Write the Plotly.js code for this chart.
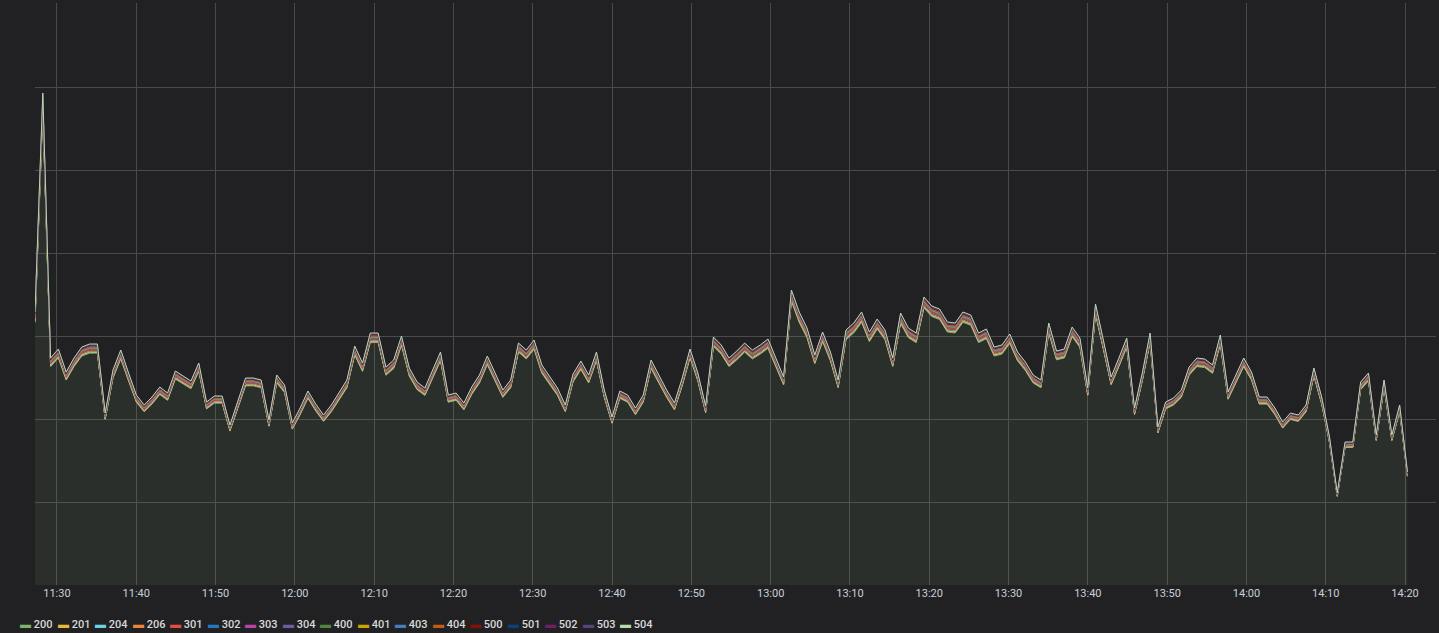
<!DOCTYPE html>
<html>
<head>
<meta charset="utf-8">
<script src="https://cdn.plot.ly/plotly-3.0.1.min.js"></script>
<style>
  html, body { margin: 0; padding: 0; background: #212124; }
  #chart { width: 1439px; height: 633px; }
</style>
</head>
<body>
<div id="chart"></div>
<script>
// Requests per minute, stacked by status code. Total height.
const startTime = '2024-01-01 11:27:14';
const stepSeconds = 59;
const totals = [
  273,492,227,236,213,227,238,241,241,172,215,235,212,190,180,188,198,192,214,209,204,222,183,189,189,160,183,207,207,205,165,210,200,162,177,194,181,170,180,192,205,239,222,252,252,218,225,249,217,203,197,215,233,190,192,182,198,210,229,212,195,
  205,242,235,245,220,208,197,180,211,224,210,233,195,168,194,190,177,190,225,210,195,182,207,236,212,179,248,240,227,234,242,235,240,246,227,208,295,273,257,230,253,233,205,255,262,273,253,266,255,227,272,257,252,288,279,276,263,262,273,270,
  252,256,238,240,251,233,223,210,205,262,234,236,258,247,197,281,245,208,227,247,177,212,252,158,183,187,195,218,227,226,220,250,193,210,227,213,188,188,177,163,172,170,180,217,188,148,92,143,143,203,212,150,205,150,180,113
];
const codes = ['200','201','204','206','301','302','303','304','400','401','403','404','500','501','502','503','504'];
const colors = ['#7EB26D','#EAB839','#6ED0E0','#EF843C','#E24D42','#1F78C1','#BA43A9','#705DA0',
  '#508642','#CCA300','#447EBC','#C15C17','#890F02','#0A437C','#6D1F62','#584477','#B7DBAB'];
// share of the total taken by each minor status code (200 takes the rest)
const shares = [0, 0.003, 0.002, 0.004, 0.005, 0.003, 0.001, 0.002, 0.001, 0.001, 0.002, 0.003, 0.004, 0.001, 0.001, 0.002, 0.003];

const t0 = new Date(startTime.replace(' ', 'T') + 'Z').getTime();
const times = totals.map(function (_, i) {
  return new Date(t0 + i * stepSeconds * 1000).toISOString().replace('T', ' ').slice(0, 19);
});
const minorSum = shares.reduce(function (a, b) { return a + b; }, 0);

function hexToRgba(hex, a) {
  const n = parseInt(hex.slice(1), 16);
  return `rgba(${(n >> 16) & 255},${(n >> 8) & 255},${n & 255},${a})`;
}

const traces = codes.map(function (code, i) {
  const y = totals.map(function (v) {
    return i === 0 ? v * (1 - minorSum) : v * shares[i];
  });
  return {
    x: times, y: y, name: code, type: 'scatter', mode: 'lines',
    stackgroup: 'one',
    line: { color: colors[i], width: 1 },
    fillcolor: hexToRgba(colors[i], i === 0 ? 0.1 : 0.15),
    showlegend: false, hoverinfo: 'skip'
  };
});

// Grafana-style legend strip below the plot
const plotLeft = 35, plotWidth = 1401;
const annotations = codes.map(function (code, i) {
  const px = 18 + i * 37.5;
  return {
    xref: 'paper', yref: 'paper',
    x: (px - plotLeft) / plotWidth, y: -0.068,
    xanchor: 'left', yanchor: 'middle', showarrow: false,
    text: `<span style="color:${colors[i]}">▬</span> ${code}`,
    font: { color: '#d8d9da', size: 11, family: 'Roboto, sans-serif', weight: 500 }
  };
});

const layout = {
  paper_bgcolor: '#212124',
  plot_bgcolor: '#212124',
  margin: { l: 35, r: 3, t: 3, b: 48 },
  font: { family: 'Roboto, "Open Sans", sans-serif', color: '#d8d9da', size: 11 },
  xaxis: {
    type: 'date',
    range: ['2024-01-01 11:27:14', '2024-01-01 14:23:54'],
    dtick: 600000,
    tick0: '2024-01-01 11:30:00',
    tickformat: '%H:%M',
    showgrid: true, gridcolor: '#4a4a4a', gridwidth: 1,
    zeroline: false, showline: false, ticks: '',
    tickfont: { color: '#c7d0d9', size: 11 }
  },
  yaxis: {
    range: [0, 582],
    dtick: 83, tick0: 0,
    showgrid: true, gridcolor: '#4a4a4a', gridwidth: 1,
    showticklabels: false, zeroline: false, showline: false, ticks: ''
  },
  showlegend: false,
  annotations: annotations
};

Plotly.newPlot('chart', traces, layout, { displayModeBar: false, staticPlot: true });
</script>
</body>
</html>
